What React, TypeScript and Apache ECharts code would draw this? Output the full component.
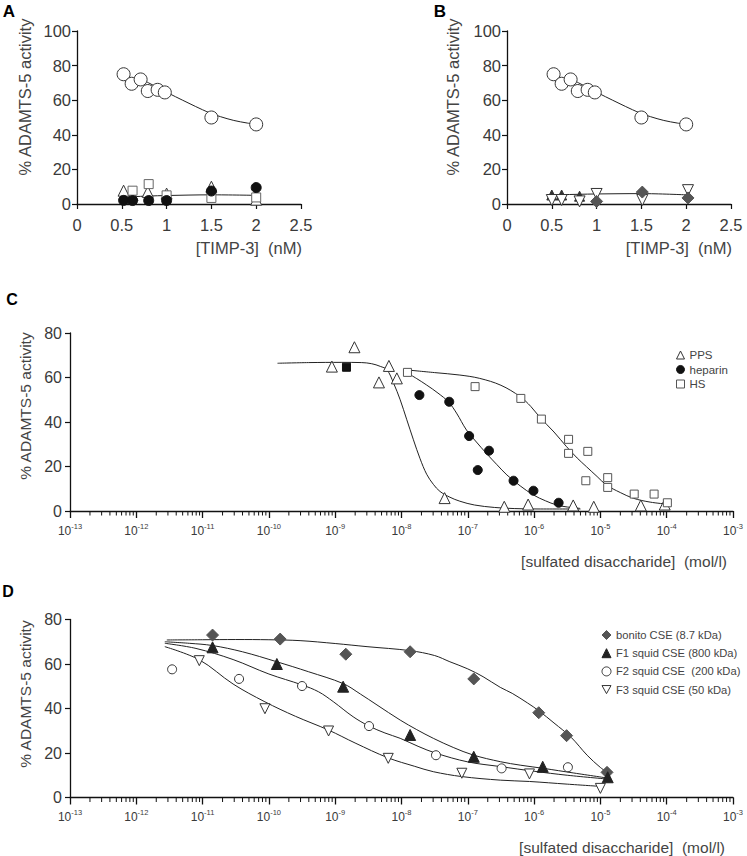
import React, { useEffect, useRef } from 'react';
import * as echarts from 'echarts';

// ---------- Panels A & B : x = [TIMP-3] (nM), y = % activity ----------
const controlX = [0.52, 0.61, 0.71, 0.79, 0.9, 0.98, 1.5, 2.0];
const controlY = [75, 69.5, 72, 65.3, 66, 64.5, 50, 46];
const controlCurveX = [0.72, 0.8, 0.9, 1.0, 1.1, 1.25, 1.4, 1.5, 1.6, 1.75, 1.9, 2.0];
const controlCurveY = [72, 70, 67.3, 64.6, 62, 58.2, 54.5, 52.3, 50.5, 48.3, 46.8, 46];

const aTriX = [0.52, 0.62, 0.79, 1.0, 1.5, 2.0];
const aTriY = [7.7, 5.2, 7, 6, 10, 2.5];
const aDotX = [0.52, 0.62, 0.8, 1.0, 1.5, 2.0];
const aDotY = [2.1, 2, 2, 2, 7.5, 9.5];
const aSqX = [0.62, 0.8, 1.0, 1.5, 2.0];
const aSqY = [7.7, 11.5, 5, 3.5, 3.8];
const aLineX = [0.52, 0.62, 0.8, 1.0, 1.5, 2.0];
const aLineY = [3.8, 4.2, 4.6, 4.9, 5.3, 5.0];

const bTriX = [0.5, 0.61, 0.81];
const bTriY = [5.2, 5.2, 4.5];
const bDiaX = [1.0, 1.51, 2.02];
const bDiaY = [1.5, 6.9, 3.5];
const bInvX = [0.5, 0.61, 0.81, 1.0, 1.51, 2.02];
const bInvY = [2.3, 2.3, 1.5, 5.8, 2.3, 8];
const bLineX = [0.5, 0.6, 0.8, 1.0, 1.5, 2.0];
const bLineY = [5.3, 5.4, 5.6, 5.8, 6.0, 5.3];

const timpTicks = [0, 0.5, 1, 1.5, 2, 2.5];

// ---------- Panel C : x = log10 [sulfated disaccharide] (mol/l) ----------
const cNames = ['PPS', 'heparin', 'HS'];
const ppsLogX = [-9.05, -8.71, -8.34, -8.19, -8.07, -7.35, -6.45, -6.09, -5.41, -5.1, -4.39, -4.03];
const ppsY = [64.9, 73.6, 57.8, 65.2, 59.6, 5.8, 1.9, 2.9, 2.5, 1.9, 2.5, 2.9];
const filledSqLogX = [-8.83];
const filledSqY = [64.6];
const heparinLogX = [-7.73, -7.28, -6.98, -6.85, -6.68, -6.31, -6.01, -5.63];
const heparinY = [52.1, 49.1, 33.7, 18.4, 27.1, 13.6, 9.1, 3.7];
const hsLogX = [-7.91, -6.89, -6.2, -5.89, -5.48, -5.48, -5.19, -5.22, -4.89, -4.89, -4.49, -4.19, -3.99];
const hsY = [62.3, 55.9, 50.6, 41.3, 32.2, 25.9, 26.8, 13.6, 15, 10.6, 7.6, 7.6, 3.7];

const ppsCurveLogX = [-9.87, -9.4, -8.9, -8.6, -8.45, -8.32, -8.22, -8.12, -8.02, -7.92, -7.82, -7.72, -7.62, -7.52, -7.42, -7.27, -7.12, -6.9, -6.6, -6.3, -5.9, -5.3];
const ppsCurveY = [66.4, 66.7, 66.8, 66.7, 66.2, 65.0, 63.5, 57.5, 50, 41, 32, 23.5, 16.5, 12, 8.8, 6.2, 4.4, 2.7, 1.6, 1.1, 0.9, 0.9];
const heparinCurveLogX = [-7.91, -7.77, -7.62, -7.45, -7.29, -7.17, -7.02, -6.87, -6.72, -6.56, -6.41, -6.21, -6.01, -5.83, -5.66, -5.5, -5.31];
const heparinCurveY = [62, 59.5, 56.6, 53, 49, 44, 36.4, 31, 25.9, 20.8, 16.2, 11.3, 7.2, 4.6, 2.7, 1.8, 1.2];
const hsCurveLogX = [-7.92, -7.5, -7.12, -6.82, -6.5, -6.21, -6.05, -5.91, -5.7, -5.51, -5.35, -5.21, -5.05, -4.91, -4.7, -4.5, -4.25, -4.0];
const hsCurveY = [63.4, 62.2, 61.1, 59.6, 56.5, 51.4, 47, 42, 35.5, 28.9, 23.8, 19.9, 15.5, 11.7, 8.3, 5.7, 4, 3.1];

// ---------- Panel D ----------
const dNames = ['bonito CSE (8.7 kDa)', 'F1 squid CSE (800 kDa)', 'F2 squid CSE  (200 kDa)', 'F3 squid CSE (50 kDa)'];
const bonitoLogX = [-10.85, -9.83, -8.84, -7.87, -6.91, -5.93, -5.51, -4.9];
const bonitoY = [73.0, 71.2, 64.4, 65.5, 53.3, 38.1, 27.8, 11.3];
const f1LogX = [-10.85, -9.88, -8.88, -7.87, -6.91, -5.87, -4.89];
const f1Y = [67.5, 60, 49.8, 28.1, 18.3, 13.8, 9.1];
const f2LogX = [-11.46, -10.45, -9.5, -8.49, -7.48, -6.49, -5.49];
const f2Y = [57.6, 53.3, 50.1, 32.1, 19.0, 13.1, 13.6];
const f3LogX = [-11.05, -10.06, -9.1, -8.2, -7.09, -6.07, -5.0];
const f3Y = [61.5, 39.9, 29.9, 17.6, 10.9, 10.6, 4.1];

const bonitoCurveLogX = [-11.54, -11, -10.5, -10, -9.53, -9, -8.52, -7.87, -7.5, -7.27, -7.0, -6.77, -6.51, -6.33, -6.1, -5.93, -5.7, -5.44, -5.2, -5.0, -4.86];
const bonitoCurveY = [70.8, 70.9, 71, 70.9, 70.5, 69.2, 67.8, 66, 63.8, 61, 57.8, 54.3, 49.5, 46.8, 42.5, 39, 33.5, 27, 19, 13.5, 10.5];
const f1CurveLogX = [-11.57, -11.2, -10.85, -10.4, -9.88, -9.4, -8.88, -8.62, -8.37, -8.02, -7.77, -7.52, -7.22, -6.92, -6.51, -6.2, -5.86, -5.4, -4.86];
const f1CurveY = [70, 69.3, 68.3, 65.5, 61, 56.5, 51.2, 46.5, 41.6, 34.8, 30.5, 26.6, 22.5, 19.1, 16.1, 14.5, 13.1, 11, 8.6];
const f2CurveLogX = [-11.57, -11.1, -10.54, -10.0, -9.5, -9.25, -9.03, -8.73, -8.49, -8.25, -8.02, -7.75, -7.48, -7.0, -6.51, -6.0, -5.5, -4.86];
const f2CurveY = [69.3, 67, 62, 55.5, 50.6, 47.5, 43.1, 36.3, 32.1, 29, 26.6, 23, 19.9, 16, 13.9, 11.8, 10, 8.2];
const f3CurveLogX = [-11.57, -11.05, -10.54, -10.06, -9.6, -9.1, -8.7, -8.2, -7.8, -7.52, -7.09, -6.51, -6.07, -5.5, -5.0];
const f3CurveY = [67.8, 61.9, 51, 43, 36.5, 30.3, 24.5, 17.8, 14, 11.6, 9.4, 7.8, 7.2, 6, 5.0];

const FONT = "'Liberation Sans', Arial, Helvetica, sans-serif";
const TXT = '#3a3a3a';
const AX = '#111';
const INV_TRI = 'path://M0,0 L10,0 L5,9 Z';

const zip = (xs: number[], ys: number[]) => xs.map((x, i) => [x, ys[i]]);

function scatter(name: string, g: number, xs: number[], ys: number[], symbol: string, size: number, fill: string, stroke: string, rotate = 0) {
  return {
    type: 'scatter', name, xAxisIndex: g, yAxisIndex: g, data: zip(xs, ys),
    symbol, symbolSize: size, symbolRotate: rotate,
    itemStyle: { color: fill, borderColor: stroke, borderWidth: 1, opacity: 1 },
    z: 3, silent: true,
  };
}
function curve(g: number, xs: number[], ys: number[]) {
  return {
    type: 'line', xAxisIndex: g, yAxisIndex: g, data: zip(xs, ys), smooth: 0.35,
    showSymbol: false, symbol: 'none', lineStyle: { color: '#222', width: 1 }, z: 2, silent: true,
  };
}

const minorTickPos: number[] = [];
for (let d = -13; d < -3; d++) for (let k = 2; k <= 9; k++) minorTickPos.push(d + Math.log10(k));

function minorTicks(g: number) {
  return {
    type: 'custom', xAxisIndex: g, yAxisIndex: g, silent: true, z: 1, clip: false,
    data: minorTickPos.map((v) => [v, 0]),
    renderItem: (_p: any, api: any) => {
      const pt = api.coord([api.value(0), api.value(1)]);
      return { type: 'line', shape: { x1: pt[0], y1: pt[1], x2: pt[0], y2: pt[1] + 4.5 }, style: { stroke: AX, lineWidth: 1 } };
    },
  };
}

const linAxisX = (g: number) => ({
  gridIndex: g, type: 'value', min: 0, max: 2.5, interval: 0.5,
  axisLine: { show: true, onZero: false, lineStyle: { color: AX, width: 1.3 } },
  axisTick: { show: true, length: 5, lineStyle: { color: AX, width: 1.2 } },
  axisLabel: { fontSize: 16.5, color: TXT, margin: 12, fontFamily: FONT, formatter: (v: number) => String(timpTicks.find((t) => Math.abs(t - v) < 1e-9) ?? v) },
  splitLine: { show: false },
});
const linAxisY = (g: number, max: number, fs: number, margin: number) => ({
  gridIndex: g, type: 'value', min: 0, max, interval: 20,
  axisLine: { show: true, onZero: false, lineStyle: { color: AX, width: 1.3 } },
  axisTick: { show: true, length: 5, lineStyle: { color: AX, width: 1.2 } },
  axisLabel: { fontSize: fs, color: TXT, margin, fontFamily: FONT },
  splitLine: { show: false },
});
const logAxisX = (g: number) => ({
  gridIndex: g, type: 'value', min: -13, max: -3, interval: 1,
  axisLine: { show: true, onZero: false, lineStyle: { color: AX, width: 1.3 } },
  axisTick: { show: true, length: 7, lineStyle: { color: AX, width: 1.3 } },
  axisLabel: {
    margin: 11, color: TXT,
    formatter: (v: number) => `{b|10}{s|${Math.round(v)}}`,
    rich: {
      b: { fontSize: 12, color: TXT, fontFamily: FONT },
      s: { fontSize: 7.5, color: TXT, fontFamily: FONT, padding: [0, 0, 9, 0] },
    },
  },
  splitLine: { show: false },
});

function txt(x: number, y: number, text: string, opts: any = {}) {
  return {
    type: 'text', x, y, rotation: opts.rotation || 0, silent: true,
    style: {
      text, fontSize: opts.fontSize || 16, fontFamily: opts.fontFamily || FONT, fontWeight: opts.fontWeight || 'normal',
      fill: opts.fill || '#444', textAlign: opts.align || 'center', textVerticalAlign: 'middle', verticalAlign: 'middle',
    },
  };
}

export default function App() {
  const ref = useRef<HTMLDivElement>(null);
  useEffect(() => {
    if (!ref.current) return;
    const chart = echarts.init(ref.current, undefined, { renderer: 'svg' });
    const option: any = {
      animation: false,
      backgroundColor: '#fff',
      textStyle: { fontFamily: FONT },
      grid: [
        { left: 77, top: 31, width: 224, height: 173, outerBoundsMode: 'none' },
        { left: 507, top: 31, width: 224, height: 173, outerBoundsMode: 'none' },
        { left: 70, top: 333, width: 663, height: 178, outerBoundsMode: 'none' },
        { left: 70, top: 619.5, width: 663, height: 178, outerBoundsMode: 'none' },
      ],
      xAxis: [linAxisX(0), linAxisX(1), logAxisX(2), logAxisX(3)],
      yAxis: [linAxisY(0, 100, 16.5, 6), linAxisY(1, 100, 16.5, 6), linAxisY(2, 80, 16, 8), linAxisY(3, 80, 16, 8)],
      legend: [
        {
          data: cNames, orient: 'vertical', left: 676, top: 349, itemWidth: 8, itemHeight: 8, itemGap: 2.5, padding: 0,
          selectedMode: false, itemStyle: { borderWidth: 1 },
          textStyle: { fontSize: 11.5, fontFamily: FONT, color: '#444' },
        },
        {
          data: [
            { name: dNames[0] }, { name: dNames[1] }, { name: dNames[2] },
            { name: dNames[3], icon: INV_TRI },
          ],
          orient: 'vertical', left: 601.5, top: 629.5, itemWidth: 9, itemHeight: 9, itemGap: 7.2, padding: 0,
          selectedMode: false, itemStyle: { borderWidth: 1 },
          textStyle: { fontSize: 11.2, fontFamily: FONT, color: '#444' },
        },
      ],
      graphic: [
        txt(9, 11, 'A', { fontSize: 17, fontWeight: 'bold', fill: '#000' }),
        txt(440, 11, 'B', { fontSize: 17, fontWeight: 'bold', fill: '#000' }),
        txt(12, 299, 'C', { fontSize: 16, fontWeight: 'bold', fill: '#000' }),
        txt(8, 591, 'D', { fontSize: 16, fontWeight: 'bold', fill: '#000' }),
        txt(25, 97, '% ADAMTS-5 activity', { fontSize: 16.5, rotation: Math.PI / 2 }),
        txt(453, 97, '% ADAMTS-5 activity', { fontSize: 16.5, rotation: Math.PI / 2 }),
        txt(25, 406, '% ADAMTS-5 activity', { fontSize: 15.5, rotation: Math.PI / 2 }),
        txt(25, 694, '% ADAMTS-5 activity', { fontSize: 15.5, rotation: Math.PI / 2 }),
        txt(302, 248, '[TIMP-3]  (nM)', { fontSize: 16.5, align: 'right' }),
        txt(732, 248, '[TIMP-3]  (nM)', { fontSize: 16.5, align: 'right' }),
        txt(727, 561, '[sulfated disaccharide]  (mol/l)', { fontSize: 15.5, align: 'right' }),
        txt(725, 847, '[sulfated disaccharide]  (mol/l)', { fontSize: 15.5, align: 'right' }),
      ],
      series: [
        // A
        curve(0, controlCurveX, controlCurveY),
        curve(0, aLineX, aLineY),
        scatter('A control', 0, controlX, controlY, 'circle', 13, '#fff', '#333'),
        scatter('A tri', 0, aTriX, aTriY, 'triangle', 11, '#fff', '#333'),
        scatter('A sq', 0, aSqX, aSqY, 'rect', 9, '#fff', '#666'),
        scatter('A dot', 0, aDotX, aDotY, 'circle', 10, '#111', '#111'),
        // B
        curve(1, controlCurveX, controlCurveY),
        curve(1, bLineX, bLineY),
        scatter('B control', 1, controlX, controlY, 'circle', 13, '#fff', '#333'),
        scatter('B tri', 1, bTriX, bTriY, 'triangle', 10, '#333', '#333'),
        scatter('B inv', 1, bInvX, bInvY, 'triangle', 11, '#fff', '#333', 180),
        scatter('B dia', 1, bDiaX, bDiaY, 'diamond', 12, '#555', '#555'),
        // C
        minorTicks(2),
        curve(2, ppsCurveLogX, ppsCurveY),
        curve(2, heparinCurveLogX, heparinCurveY),
        curve(2, hsCurveLogX, hsCurveY),
        scatter('PPS', 2, ppsLogX, ppsY, 'triangle', 11, '#fff', '#333'),
        scatter('heparin', 2, heparinLogX, heparinY, 'circle', 9, '#111', '#111'),
        scatter('HS', 2, hsLogX, hsY, 'rect', 8, '#fff', '#555'),
        scatter('C filled square', 2, filledSqLogX, filledSqY, 'rect', 8, '#111', '#111'),
        // D
        minorTicks(3),
        curve(3, bonitoCurveLogX, bonitoCurveY),
        curve(3, f1CurveLogX, f1CurveY),
        curve(3, f2CurveLogX, f2CurveY),
        curve(3, f3CurveLogX, f3CurveY),
        scatter(dNames[0], 3, bonitoLogX, bonitoY, 'diamond', 12, '#555', '#555'),
        scatter(dNames[1], 3, f1LogX, f1Y, 'triangle', 11, '#222', '#222'),
        scatter(dNames[2], 3, f2LogX, f2Y, 'circle', 9, '#fff', '#333'),
        scatter(dNames[3], 3, f3LogX, f3Y, 'triangle', 10, '#fff', '#333', 180),
      ],
    };
    chart.setOption(option);
    return () => chart.dispose();
  }, []);
  return <div ref={ref} style={{ position: 'fixed', left: 0, top: 0, width: 747, height: 856, background: '#fff' }} />;
}
